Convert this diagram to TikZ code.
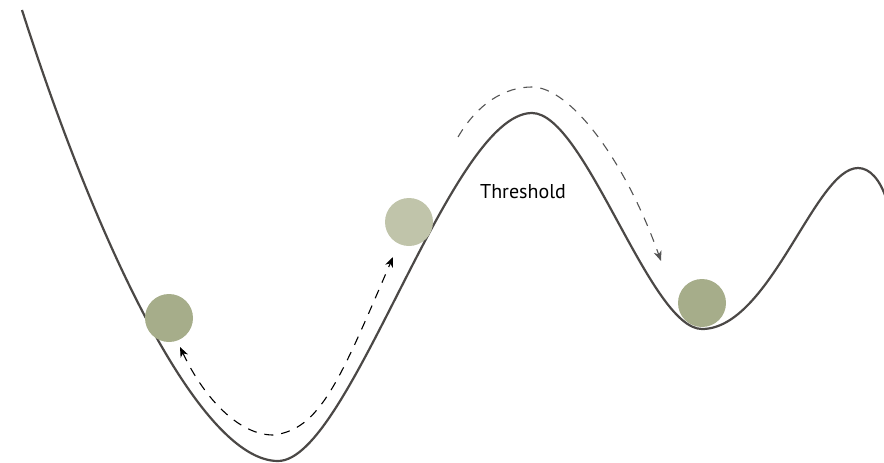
\documentclass[tikz,border=0pt]{standalone}
\usepackage{fontspec}
\setmainfont{PT Sans}
\usetikzlibrary{arrows.meta}
\definecolor{curvegray}{HTML}{4B4846}
\definecolor{balldark}{HTML}{A6AD8A}
\definecolor{balllight}{HTML}{C0C4AA}
\definecolor{dashgray}{HTML}{555555}
\tikzset{
  landscape/.style={draw=curvegray, line width=2.2pt},
  ball/.style={circle, inner sep=0pt, minimum size=48pt, draw=none},
  tipstyle/.style={arrows={-Stealth[length=10pt,width=8pt,inset=3pt]}},
  movearrow/.style={dash pattern=on 9pt off 8pt, line width=1.1pt},
}
\begin{document}
\begin{tikzpicture}[x=1pt,y=-1pt]
\useasboundingbox (0,0) rectangle (884,463);
% energy landscape
\draw[landscape] (22,10) .. controls (97,245) and (200,461) .. (278,461)
  .. controls (350,461) and (450,113) .. (532,113)
  .. controls (585,113) and (650,329) .. (702,329)
  .. controls (770,329) and (815,168) .. (858,168)
  .. controls (870,168) and (880,180) .. (886,198);
% balls
\node[ball, fill=balldark] (b1) at (169,318) {};
\node[ball, fill=balllight] (b2) at (409,222) {};
\node[ball, fill=balldark] (b3) at (702,303) {};
% arrow endpoints
\coordinate (a1s) at (180,347);
\coordinate (a1b) at (273,435);
\coordinate (a1e) at (393,257);
\coordinate (a2s) at (458,137);
\coordinate (a2p) at (532,87);
\coordinate (a2e) at (661,261);
% dashed arrows
\draw[movearrow, black, arrows={Stealth[length=10pt,width=8pt,inset=3pt]-Stealth[length=10pt,width=8pt,inset=3pt]}]
  (a1s) .. controls (205,400) and (240,435) .. (a1b)
  .. controls (320,430) and (340,380) .. (a1e);
\draw[movearrow, tipstyle, dashgray] (a2s) .. controls (478,103) and (505,87) .. (a2p)
  .. controls (570,87) and (625,160) .. (a2e);
% label
\node[anchor=base west, inner sep=0pt, font=\fontsize{20}{24}\selectfont] (thr) at (480,198) {Threshold};
\end{tikzpicture}
\end{document}
